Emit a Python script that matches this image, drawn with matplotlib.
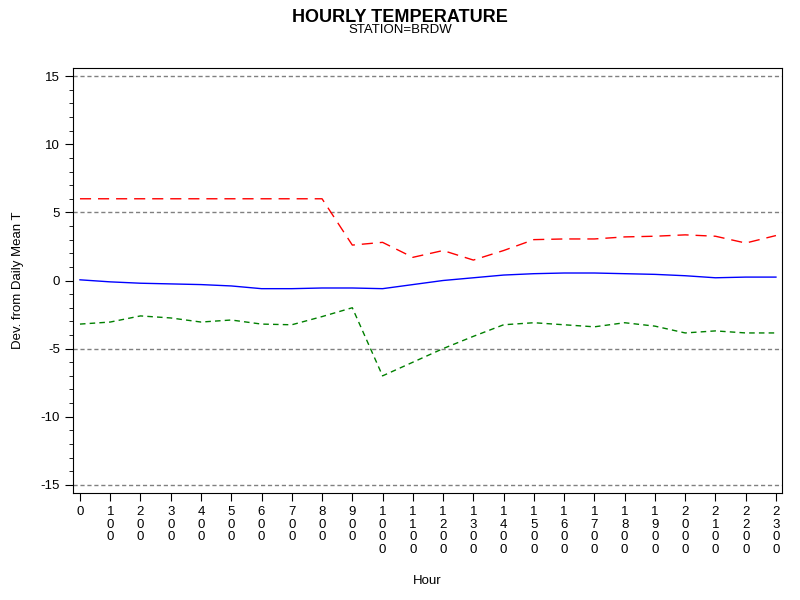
import matplotlib
matplotlib.use("Agg")
import matplotlib.pyplot as plt
from matplotlib.ticker import MultipleLocator

plt.rcParams["font.family"] = "Liberation Sans"

hours = list(range(24))
hour_labels = ["0"] + [str(h * 100) for h in range(1, 24)]
upper = [6, 6, 6, 6, 6, 6, 6, 6, 6, 2.6, 2.8, 1.7, 2.2, 1.5, 2.2, 3.0, 3.05, 3.05, 3.2, 3.25, 3.35, 3.25, 2.75, 3.3]
mean = [0.05, -0.1, -0.2, -0.25, -0.3, -0.4, -0.6, -0.6, -0.55, -0.55, -0.6, -0.3, 0.0, 0.2, 0.4, 0.5, 0.55, 0.55, 0.5, 0.45, 0.35, 0.2, 0.25, 0.25]
lower = [-3.2, -3.05, -2.6, -2.75, -3.05, -2.9, -3.2, -3.25, -2.65, -2.0, -7.0, -6.0, -5.0, -4.1, -3.25, -3.1, -3.25, -3.4, -3.1, -3.35, -3.85, -3.7, -3.85, -3.85]
ref_lines = [-15, -5, 5, 15]
yticks = [-15, -10, -5, 0, 5, 10, 15]

fig = plt.figure(figsize=(8, 6), dpi=100)
ax = fig.add_axes([73/800, 1-493/600, (782-73)/800, (493-68)/600])
for r in ref_lines:
    ax.axhline(r, color="gray", lw=1, ls=(0, (3, 2)))
ax.plot(hours, upper, color="red", lw=1, ls=(0, (8, 5)))
ax.plot(hours, mean, color="blue", lw=1)
ax.plot(hours, lower, color="green", lw=1, ls=(0, (4, 3)))
ax.set_xlim(-0.23, 23.2)
ax.set_ylim(-15.6, 15.6)
ax.set_xticks(hours)
ax.set_xticklabels(["\n".join(s) for s in hour_labels], fontsize=9.5, linespacing=1.05, va="top")
ax.set_yticks(yticks)
ax.set_yticklabels([str(v) for v in yticks], fontsize=9.5)
ax.yaxis.set_minor_locator(MultipleLocator(1))
ax.tick_params(direction="out", length=6)
ax.tick_params(which="minor", length=3)
ax.set_xlabel("Hour", fontsize=9.5, labelpad=14)
ax.set_ylabel("Dev. from Daily Mean T", fontsize=9.5, labelpad=12)
fig.text(0.5, 0.985, "HOURLY TEMPERATURE", ha="center", va="top", fontsize=13, fontweight="bold")
fig.text(0.5, 0.96, "STATION=BRDW", ha="center", va="top", fontsize=9.5)
fig.savefig("out.png", dpi=100)
